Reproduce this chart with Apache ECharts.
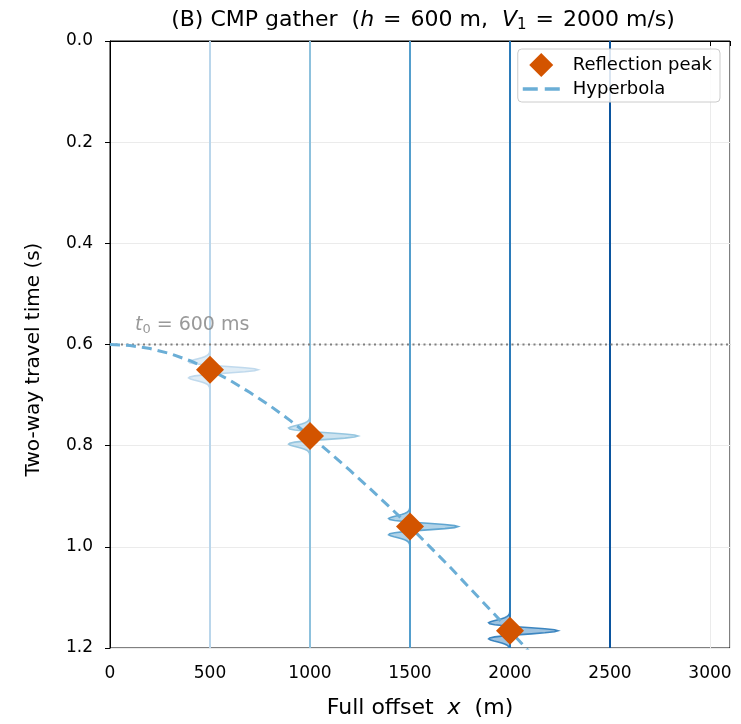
<!DOCTYPE html>
<html><head><meta charset="utf-8">
<script src="https://cdn.jsdelivr.net/npm/echarts@6/dist/echarts.min.js"></script>
<style>html,body{margin:0;padding:0;background:#fff}#c{width:741px;height:724px}</style>
</head><body><div id="c"></div>
<script>
// ---- data ----
const traceOffsets = [500, 1000, 1500, 2000, 2500];
const traceColors = ['#bad6eb', '#8dc1dd', '#539ecd', '#2b7bba', '#0b559f'];
const pickOffsets = [500, 1000, 1500, 2000];
const pickTimes = [0.650, 0.781, 0.960, 1.166];
const hypOffsets = [0,100,200,300,400,500,600,700,800,900,1000,1100,1200,1300,1400,1500,1600,1700,1800,1900,2000,2100];
const hypTimes = [0.600,0.602,0.608,0.618,0.632,0.650,0.671,0.695,0.721,0.750,0.781,0.814,0.849,0.885,0.922,0.960,1.000,1.040,1.082,1.124,1.166,1.209];
const waveletDt = [-0.040,-0.034,-0.030,-0.028,-0.026,-0.024,-0.022,-0.020,-0.018,-0.016,-0.014,-0.012,-0.010,-0.008,-0.006,-0.004,-0.002,0,0.002,0.004,0.006,0.008,0.010,0.012,0.014,0.016,0.018,0.020,0.022,0.024,0.026,0.028,0.030,0.034,0.040];
const waveletAmp = [-0.001,-0.011,-0.039,-0.069,-0.113,-0.175,-0.251,-0.334,-0.406,-0.445,-0.423,-0.320,-0.126,0.142,0.445,0.727,0.928,1,0.928,0.727,0.445,0.142,-0.126,-0.320,-0.423,-0.445,-0.406,-0.334,-0.251,-0.175,-0.113,-0.069,-0.039,-0.011,-0.001];
const waveletScale = 240; // metres of horizontal displacement for unit amplitude
const t0 = 0.6;
const xTicks = [0, 500, 1000, 1500, 2000, 2500, 3000];
const yTicks = [0.0, 0.2, 0.4, 0.6, 0.8, 1.0, 1.2];

const FONT = 'DejaVu Sans';
const chart = echarts.init(document.getElementById('c'), null, {renderer: 'canvas'});

const series = [];
traceOffsets.forEach((x, i) => {
  series.push({
    type: 'line', silent: true, symbol: 'none', z: 1,
    data: [[x, 0], [x, 1.2]],
    lineStyle: {color: traceColors[i], width: 2}
  });
});
series.push({
  type: 'line', silent: true, symbol: 'none', z: 2,
  data: [[0, t0], [3100, t0]],
  lineStyle: {color: '#808080', width: 1.8, type: [2, 3.5]}
});
const waveData = pickOffsets.map((x, i) => [x, pickTimes[i], i]);
series.push({
  type: 'custom', silent: true, z: 3, clip: true,
  data: waveData,
  renderItem: function (params, api) {
    const x0 = api.value(0), tp = api.value(1), idx = api.value(2);
    const pts = waveletDt.map((d, k) => api.coord([x0 + waveletAmp[k] * waveletScale, tp + d]));
    const base0 = api.coord([x0, tp + waveletDt[0]]);
    const base1 = api.coord([x0, tp + waveletDt[waveletDt.length - 1]]);
    const poly = [base0].concat(pts).concat([base1]);
    const col = traceColors[idx];
    return {
      type: 'group',
      children: [
        {type: 'polygon', shape: {points: poly}, style: {fill: col, opacity: 0.45}},
        {type: 'polyline', shape: {points: pts}, style: {stroke: col, lineWidth: 1.6, fill: null, opacity: 0.9}}
      ]
    };
  }
});
series.push({
  name: 'Hyperbola', type: 'line', symbol: 'none', z: 4, clip: true,
  data: hypOffsets.map((x, i) => [x, hypTimes[i]]),
  itemStyle: {color: '#6baed6'},
  lineStyle: {color: '#6baed6', width: 3, type: [10, 6]}
});
series.push({
  name: 'Reflection peak', type: 'scatter', symbol: 'diamond', symbolSize: [28, 28], z: 6,
  data: pickOffsets.map((x, i) => [x, pickTimes[i]]),
  itemStyle: {color: '#d35400', opacity: 1}
});
series.push({
  type: 'scatter', silent: true, symbolSize: 0, z: 5,
  data: [[125, 0.562]],
  label: {
    show: true, position: 'right', distance: 0,
    formatter: '{i|t}{s|0}{n|= 600 ms}',
    rich: {
      i: {fontFamily: FONT, fontStyle: 'italic', fontSize: 19, color: '#808080'},
      s: {fontFamily: FONT, fontSize: 13, color: '#808080', padding: [8, 6, 0, 0]},
      n: {fontFamily: FONT, fontSize: 19, color: '#808080'}
    }
  }
});

chart.setOption({
  animation: false,
  backgroundColor: '#fff',
  title: {
    text: '{n|(B) CMP gather  (}{i|h}{e|=}{n|600 m,  }{i|V}{s|1}{e|=}{n|2000 m/s)}',
    left: 418, top: 3, textAlign: 'center',
    textStyle: {
      rich: {
        n: {fontFamily: FONT, fontSize: 22, fontWeight: 'normal', color: '#000'},
        e: {fontFamily: FONT, fontSize: 22, fontWeight: 'normal', color: '#000', padding: [0, 9, 0, 9]},
        i: {fontFamily: FONT, fontSize: 22, fontStyle: 'italic', fontWeight: 'normal', color: '#000'},
        s: {fontFamily: FONT, fontSize: 15, fontWeight: 'normal', color: '#000', padding: [10, 0, 0, 0]}
      }
    }
  },
  legend: {
    data: [
      {name: 'Reflection peak', icon: 'path://M12,0 L24,12 L12,24 L0,12 Z'},
      {name: 'Hyperbola', icon: 'path://M0,0h15v3.5h-15z M22,0h15v3.5h-15z'}
    ],
    orient: 'vertical', right: 21, top: 49,
    padding: [4, 8, 4, 5], itemGap: 3, itemWidth: 37, itemHeight: 24,
    backgroundColor: 'rgba(255,255,255,0.85)', borderColor: '#cccccc', borderWidth: 1, borderRadius: 4,
    textStyle: {fontFamily: FONT, fontSize: 18, color: '#000', padding: [0, 0, 0, 8]}
  },
  grid: {left: 110, top: 41, width: 620, height: 611, show: true, borderColor: '#000', borderWidth: 1, backgroundColor: 'transparent'},
  xAxis: {
    type: 'value', min: 0, max: 3100, interval: 500,
    name: '{n|Full offset  }{i|x}{n|  (m)}', nameLocation: 'middle', nameGap: 49,
    nameTextStyle: {rich: {n: {fontFamily: FONT, fontSize: 22, color: '#000'}, i: {fontFamily: FONT, fontSize: 22, fontStyle: 'italic', color: '#000'}}},
    axisLine: {show: true, lineStyle: {color: '#000', width: 1}},
    axisTick: {show: true, length: 5, lineStyle: {color: '#000'}},
    axisLabel: {fontFamily: FONT, fontSize: 17, color: '#000', margin: 17,
      formatter: v => xTicks.indexOf(v) >= 0 ? String(v) : ''},
    splitLine: {show: true, lineStyle: {color: '#ebebeb', width: 1}}
  },
  yAxis: {
    type: 'value', min: 0, max: 1.2, interval: 0.2, inverse: true,
    name: 'Two-way travel time (s)', nameLocation: 'middle', nameGap: 66, nameRotate: 90,
    nameTextStyle: {fontFamily: FONT, fontSize: 20, color: '#000', padding: [0, 30, 0, 0]},
    axisLine: {show: true, lineStyle: {color: '#000', width: 1}},
    axisTick: {show: true, length: 5, lineStyle: {color: '#000'}},
    axisLabel: {fontFamily: FONT, fontSize: 17, color: '#000', margin: 17,
      formatter: v => { const m = yTicks.find(t => Math.abs(t - v) < 1e-9); return m === undefined ? '' : m.toFixed(1); }},
    splitLine: {show: true, lineStyle: {color: '#ebebeb', width: 1}}
  },
  series: series
});
</script></body></html>
